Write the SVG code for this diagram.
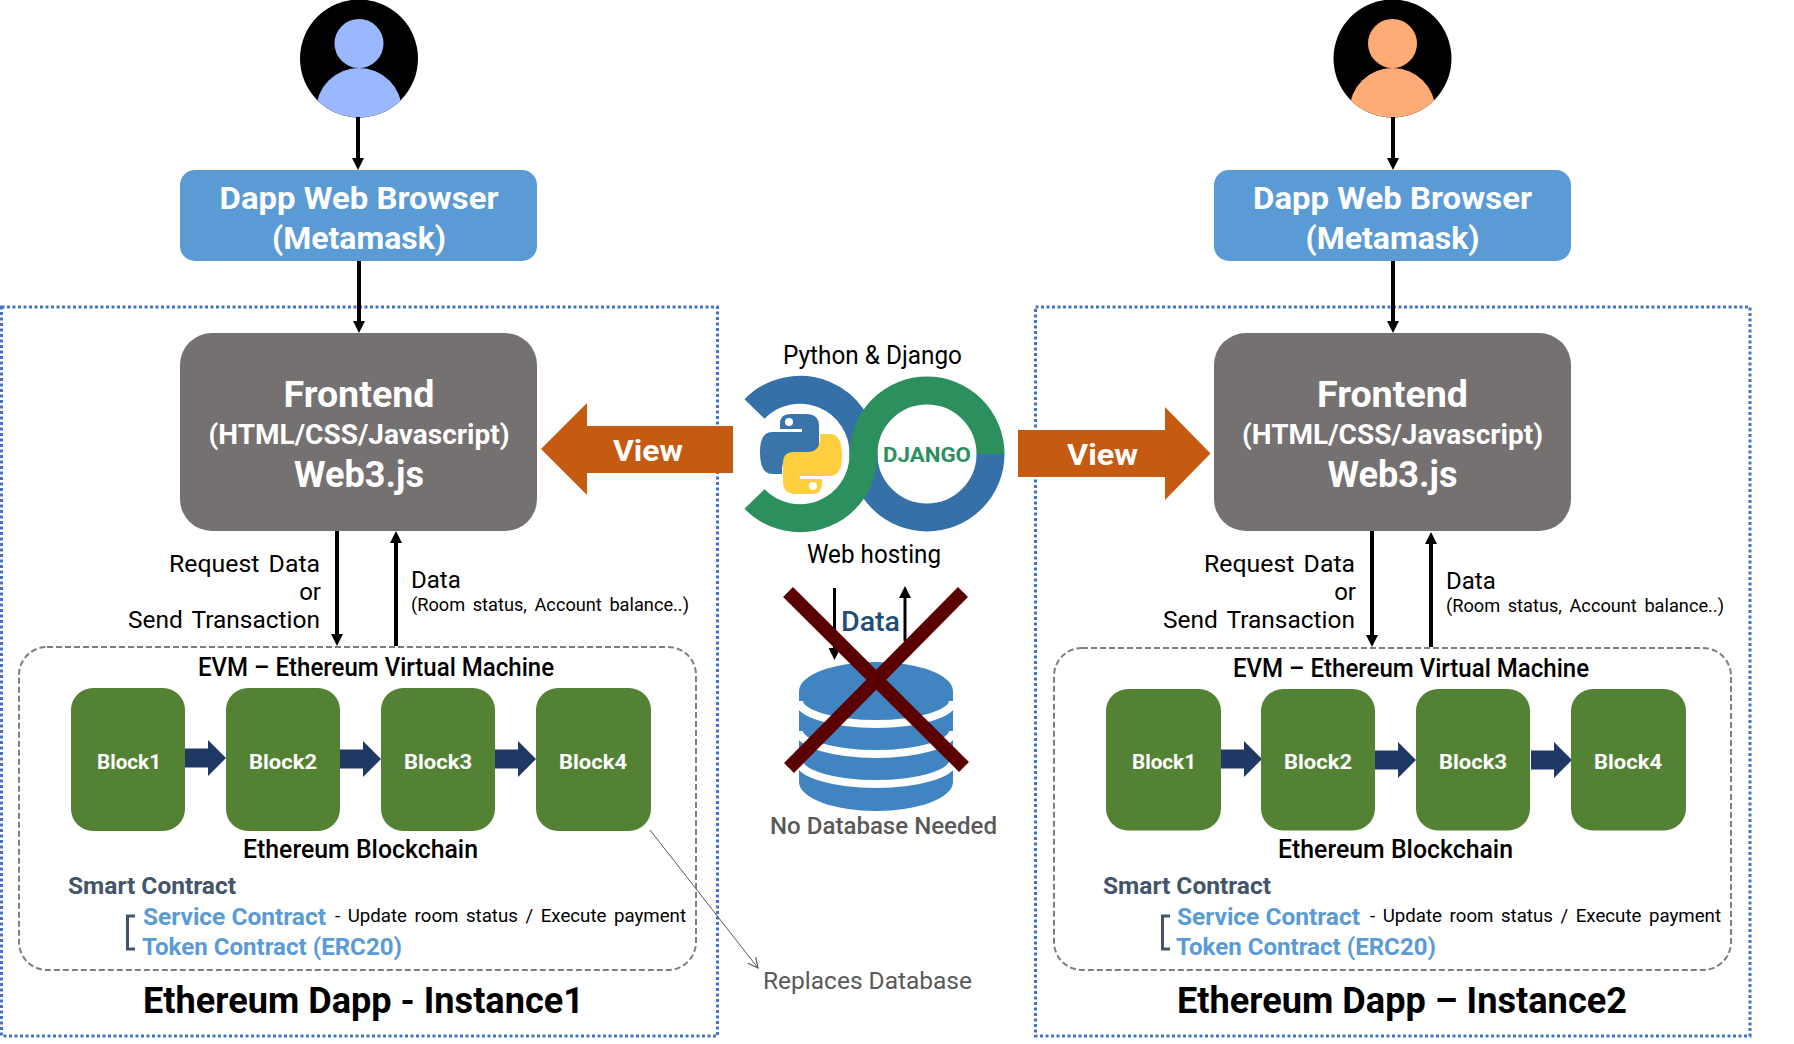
<svg xmlns="http://www.w3.org/2000/svg" width="1794" height="1044" viewBox="0 0 1794 1044">
<style>
text{font-family:Roboto,"Noto Sans",sans-serif;fill:#000}
.w{fill:#fff}.b{font-weight:700}.m{font-weight:500}
.c{text-anchor:middle}.e{text-anchor:end}
.ws{word-spacing:3px}
.border{fill:none;stroke:#4472C4;stroke-width:3;stroke-dasharray:3 2.5}
.evm{fill:none;stroke:#7F7F7F;stroke-width:2;stroke-dasharray:6 3}
.browser{fill:#5B9BD5}.front{fill:#767171}.block{fill:#548235}.chain{fill:#203864}.orange{fill:#C55A11}
.conn{stroke:#000;fill:none}
.sc{fill:#44546A;font-weight:700}.lb{fill:#5B9BD5;font-weight:700}
</style>
<defs>
<marker id="ah" viewBox="0 0 12 12" refX="0" refY="6" markerWidth="12" markerHeight="12" markerUnits="userSpaceOnUse" orient="auto"><path d="M0 0L12 6L0 12Z" fill="#000"/></marker>
<marker id="ao" viewBox="0 0 12 12" refX="11" refY="6" markerWidth="12" markerHeight="12" markerUnits="userSpaceOnUse" orient="auto"><path d="M1 1L11 6L1 11" fill="none" stroke="#595959" stroke-width="1.2"/></marker>
<clipPath id="uc1"><circle cx="359" cy="58.500" r="59"/></clipPath>
<clipPath id="uc2"><circle cx="1392.500" cy="58.500" r="59"/></clipPath>
<path id="chev" d="M0 -9.500H23V-18L41 0L23 18V9.500H0Z"/>
</defs>
<rect width="1794" height="1044" fill="#fff"/>

<g id="instance1-border"><rect class="border" x="1.500" y="307" width="716" height="729"/></g>
<g id="instance2-border"><rect class="border" x="1035.500" y="307" width="714.500" height="729"/></g>

<g id="user1"><circle cx="359" cy="58.500" r="59"/><g clip-path="url(#uc1)"><circle cx="359" cy="111" r="43" fill="#9AB8FF"/></g><circle cx="359" cy="43.500" r="24.500" fill="#9AB8FF"/></g>
<g id="user2"><circle cx="1392.500" cy="58.500" r="59"/><g clip-path="url(#uc2)"><circle cx="1392.500" cy="111" r="43" fill="#FFAB76"/></g><circle cx="1392.500" cy="43.500" r="24.500" fill="#FFAB76"/></g>

<g id="connectors">
<g class="conn" stroke-width="4">
<path d="M358 117V158" marker-end="url(#ah)"/>
<path d="M359 261V321" marker-end="url(#ah)"/>
<path d="M337 531V634" marker-end="url(#ah)"/>
<path d="M396 646V543" marker-end="url(#ah)"/>
<path d="M1393 117V158" marker-end="url(#ah)"/>
<path d="M1393 261V321" marker-end="url(#ah)"/>
<path d="M1372 531V635" marker-end="url(#ah)"/>
<path d="M1431 647V544" marker-end="url(#ah)"/>
<path d="M834.500 588V648" stroke-width="3" marker-end="url(#ah)"/>
<path d="M905 641V598" stroke-width="3" marker-end="url(#ah)"/>
</g>
<path d="M650 830L758 968" stroke="#595959" stroke-width="1" fill="none" marker-end="url(#ao)"/>
<path class="orange" d="M733 426V473H587V495L541 449L587 403V426Z"/>
<path class="orange" d="M1018 430V477H1165V500L1210.500 453.500L1165 407V430Z"/>
<g class="chain">
<use href="#chev" x="185" y="758"/><use href="#chev" x="340" y="759"/><use href="#chev" x="495" y="759"/>
<use href="#chev" x="1221" y="759"/><use href="#chev" x="1375" y="760"/><use href="#chev" x="1531" y="760"/>
</g>
</g>

<g id="browser1"><rect class="browser" x="180" y="170" width="357" height="91" rx="15"/>
<text class="w b c" x="359" y="209" font-size="32" textLength="279" lengthAdjust="spacingAndGlyphs">Dapp Web Browser</text>
<text class="w b c" x="359" y="249" font-size="32" textLength="174" lengthAdjust="spacingAndGlyphs">(Metamask)</text></g>
<g id="browser2"><rect class="browser" x="1214" y="170" width="357" height="91" rx="15"/>
<text class="w b c" x="1392.500" y="209" font-size="32" textLength="279" lengthAdjust="spacingAndGlyphs">Dapp Web Browser</text>
<text class="w b c" x="1392.500" y="249" font-size="32" textLength="174" lengthAdjust="spacingAndGlyphs">(Metamask)</text></g>

<g id="frontend1"><rect class="front" x="180" y="333" width="357" height="198" rx="32"/>
<text class="w b c" x="359" y="407" font-size="36" textLength="151" lengthAdjust="spacingAndGlyphs">Frontend</text>
<text class="w b c" x="359" y="444" font-size="27" textLength="301" lengthAdjust="spacingAndGlyphs">(HTML/CSS/Javascript)</text>
<text class="w b c" x="359" y="487" font-size="36" textLength="130" lengthAdjust="spacingAndGlyphs">Web3.js</text></g>
<g id="frontend2"><rect class="front" x="1214" y="333" width="357" height="198" rx="32"/>
<text class="w b c" x="1392.500" y="407" font-size="36" textLength="151" lengthAdjust="spacingAndGlyphs">Frontend</text>
<text class="w b c" x="1392.500" y="444" font-size="27" textLength="301" lengthAdjust="spacingAndGlyphs">(HTML/CSS/Javascript)</text>
<text class="w b c" x="1392.500" y="487" font-size="36" textLength="130" lengthAdjust="spacingAndGlyphs">Web3.js</text></g>

<g id="view1"><text class="w b" x="613" y="461" font-size="30" textLength="70" lengthAdjust="spacingAndGlyphs">View</text></g>
<g id="view2"><text class="w b" x="1067" y="465" font-size="30" textLength="71" lengthAdjust="spacingAndGlyphs">View</text></g>

<g id="labels1">
<text class="e ws" x="320" y="572" font-size="24" textLength="151" lengthAdjust="spacingAndGlyphs">Request Data</text>
<text class="e" x="321" y="600" font-size="24">or</text>
<text class="e ws" x="320" y="628" font-size="24" textLength="192" lengthAdjust="spacingAndGlyphs">Send Transaction</text>
<text x="411" y="588" font-size="24">Data</text>
<text class="ws" x="411" y="611" font-size="18" textLength="278" lengthAdjust="spacingAndGlyphs">(Room status, Account balance..)</text>
</g>
<g id="labels2">
<text class="e ws" x="1355" y="572" font-size="24" textLength="151" lengthAdjust="spacingAndGlyphs">Request Data</text>
<text class="e" x="1356" y="600" font-size="24">or</text>
<text class="e ws" x="1355" y="628" font-size="24" textLength="192" lengthAdjust="spacingAndGlyphs">Send Transaction</text>
<text x="1446" y="589" font-size="24">Data</text>
<text class="ws" x="1446" y="612" font-size="18" textLength="278" lengthAdjust="spacingAndGlyphs">(Room status, Account balance..)</text>
</g>

<g id="evm1"><rect class="evm" x="19" y="647" width="677" height="323" rx="28"/>
<text x="198" y="676" font-size="25" textLength="356" lengthAdjust="spacingAndGlyphs" class="m">EVM – Ethereum Virtual Machine</text>
<text x="243" y="858" font-size="25" textLength="235" lengthAdjust="spacingAndGlyphs" class="m">Ethereum Blockchain</text></g>
<g id="evm2"><rect class="evm" x="1054" y="648" width="677" height="322" rx="28"/>
<text x="1233" y="677" font-size="25" textLength="356" lengthAdjust="spacingAndGlyphs" class="m">EVM – Ethereum Virtual Machine</text>
<text x="1278" y="858" font-size="25" textLength="235" lengthAdjust="spacingAndGlyphs" class="m">Ethereum Blockchain</text></g>

<g id="i1-block1"><rect class="block" x="71" y="688" width="114" height="143" rx="22"/><text class="w b c" x="129" y="769" font-size="21" textLength="64" lengthAdjust="spacingAndGlyphs">Block1</text></g>
<g id="i1-block2"><rect class="block" x="226" y="688" width="114" height="143" rx="22"/><text class="w b c" x="283" y="769" font-size="21" textLength="68" lengthAdjust="spacingAndGlyphs">Block2</text></g>
<g id="i1-block3"><rect class="block" x="381" y="688" width="114" height="143" rx="22"/><text class="w b c" x="438" y="769" font-size="21" textLength="68" lengthAdjust="spacingAndGlyphs">Block3</text></g>
<g id="i1-block4"><rect class="block" x="536" y="688" width="115" height="143" rx="22"/><text class="w b c" x="593" y="769" font-size="21" textLength="68" lengthAdjust="spacingAndGlyphs">Block4</text></g>
<g id="i2-block1"><rect class="block" x="1106" y="689" width="115" height="141.500" rx="22"/><text class="w b c" x="1164" y="769" font-size="21" textLength="64" lengthAdjust="spacingAndGlyphs">Block1</text></g>
<g id="i2-block2"><rect class="block" x="1261" y="689" width="114" height="141.500" rx="22"/><text class="w b c" x="1318" y="769" font-size="21" textLength="68" lengthAdjust="spacingAndGlyphs">Block2</text></g>
<g id="i2-block3"><rect class="block" x="1416" y="689" width="114" height="141.500" rx="22"/><text class="w b c" x="1473" y="769" font-size="21" textLength="68" lengthAdjust="spacingAndGlyphs">Block3</text></g>
<g id="i2-block4"><rect class="block" x="1571" y="689" width="115" height="141.500" rx="22"/><text class="w b c" x="1628" y="769" font-size="21" textLength="68" lengthAdjust="spacingAndGlyphs">Block4</text></g>

<g id="contracts1">
<text class="sc" x="68" y="894" font-size="24" textLength="168" lengthAdjust="spacingAndGlyphs">Smart Contract</text>
<path d="M135 916H127.500V949H135" fill="none" stroke="#44546A" stroke-width="3"/>
<text class="lb" x="143" y="925" font-size="24" textLength="183" lengthAdjust="spacingAndGlyphs">Service Contract</text>
<text class="ws" x="335" y="922" font-size="19" textLength="351" lengthAdjust="spacingAndGlyphs">- Update room status / Execute payment</text>
<text class="lb" x="142" y="955" font-size="24" textLength="260" lengthAdjust="spacingAndGlyphs">Token Contract (ERC20)</text>
<text class="b" x="143" y="1013" font-size="36" textLength="441" lengthAdjust="spacingAndGlyphs">Ethereum Dapp - Instance1</text>
</g>
<g id="contracts2">
<text class="sc" x="1103" y="894" font-size="24" textLength="168" lengthAdjust="spacingAndGlyphs">Smart Contract</text>
<path d="M1170 916H1162.500V949H1170" fill="none" stroke="#44546A" stroke-width="3"/>
<text class="lb" x="1177" y="925" font-size="24" textLength="183" lengthAdjust="spacingAndGlyphs">Service Contract</text>
<text class="ws" x="1370" y="922" font-size="19" textLength="351" lengthAdjust="spacingAndGlyphs">- Update room status / Execute payment</text>
<text class="lb" x="1176" y="955" font-size="24" textLength="260" lengthAdjust="spacingAndGlyphs">Token Contract (ERC20)</text>
<text class="b" x="1177" y="1013" font-size="36" textLength="450" lengthAdjust="spacingAndGlyphs">Ethereum Dapp – Instance2</text>
</g>

<g id="web-hosting">
<text x="783" y="364" font-size="25" textLength="179" lengthAdjust="spacingAndGlyphs">Python &amp; Django</text>
<g fill="none" stroke-width="28">
<path stroke="#3570A8" d="M754.500 409A63.500 63.500 0 0 1 863.500 454A63.500 63.500 0 0 0 990.500 454"/>
<path stroke="#2B8F5E" d="M754.500 499A63.500 63.500 0 0 0 863.500 454A63.500 63.500 0 0 1 990.500 454"/>
</g>
<path fill="#3A74A8" d="M790 414H806Q819 414 819 426V445Q819 456 808 456H795Q782 456 782 470V474H772Q760 474 760 452Q760 432 772 432H802V429H780V424Q780 414 790 414Z"/>
<path fill="#FFCF3F" transform="rotate(180 801 454)" d="M790 414H806Q819 414 819 426V445Q819 456 808 456H795Q782 456 782 470V474H772Q760 474 760 452Q760 432 772 432H802V429H780V424Q780 414 790 414Z"/>
<circle cx="789" cy="422" r="4" fill="#fff"/><circle cx="813" cy="486" r="4" fill="#fff"/>
<text x="927" y="462" class="b c" font-size="21" textLength="88" lengthAdjust="spacingAndGlyphs" style="fill:#2B8F5E">DJANGO</text>
<text x="807" y="563" font-size="25" textLength="134" lengthAdjust="spacingAndGlyphs">Web hosting</text>
</g>

<g id="database">
<text x="841" y="631" font-size="28" class="m" textLength="59" lengthAdjust="spacingAndGlyphs" style="fill:#1F4E79">Data</text>
<path fill="#4085C2" d="M799 691A77 29 0 0 1 953 691V782A77 29 0 0 1 799 782Z"/>
<g fill="none" stroke="#fff" stroke-width="8">
<path d="M799 701A77 23 0 0 0 953 701"/><path d="M799 731A77 23 0 0 0 953 731"/><path d="M799 761A77 23 0 0 0 953 761"/>
</g>
<g stroke="#5B0000" stroke-width="14"><path d="M788 592L964 767"/><path d="M963 592L789 768"/></g>
<text x="770" y="834" font-size="24" class="m" textLength="227" lengthAdjust="spacingAndGlyphs" style="fill:#595959">No Database Needed</text>
</g>
<g id="replaces"><text x="763" y="989" font-size="24" textLength="209" lengthAdjust="spacingAndGlyphs" style="fill:#595959">Replaces Database</text></g>
</svg>
